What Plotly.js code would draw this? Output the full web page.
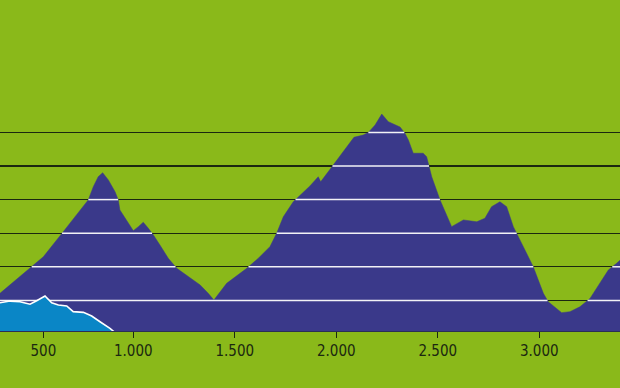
<!DOCTYPE html>
<html>
<head>
<meta charset="utf-8">
<script src="https://cdn.plot.ly/plotly-3.0.1.min.js"></script>
<style>html,body{margin:0;padding:0;background:#8ab91a;}#chart{width:620px;height:388px;}</style>
</head>
<body>
<div id="chart"></div>
<script>
// Main elevation profile (distance, elevation)
const profileX = [343, 491, 557, 655, 721, 778, 803, 827, 849, 877, 910, 926, 934, 967, 1000, 1025, 1049, 1074,
  1099, 1131, 1172, 1214, 1279, 1329, 1369, 1397, 1460, 1559, 1616, 1673, 1706, 1739, 1788,
  1870, 1911, 1923, 1985, 2067, 2087, 2132, 2158, 2191, 2224, 2256, 2314, 2338,
  2355, 2379, 2428, 2445, 2470, 2511, 2568, 2626, 2692, 2732, 2765, 2806, 2839, 2872, 2905, 2938, 2970, 2995,
  3020, 3044, 3086, 3110, 3151, 3200, 3250, 3299, 3340, 3381, 3398];
const profileY = [242, 391, 460, 609, 708, 798, 877, 936, 960, 917, 847, 798, 738, 679, 615, 639, 665, 629,
  589, 530, 451, 391, 332, 292, 242, 202, 302, 391, 451, 520, 599, 698, 787,
  881, 936, 906, 1006, 1135, 1171, 1184, 1200, 1244, 1309, 1264, 1232, 1195,
  1155, 1076, 1076, 1055, 936, 798, 639, 679, 668, 689, 758, 787, 758, 639, 560, 480, 401, 321,
  242, 192, 153, 127, 133, 162, 212, 302, 381, 421, 440];

// Secondary (light blue) profile
const innerX = [343, 393, 442, 491, 524, 565, 598, 631, 672, 704, 754, 795, 836, 885, 918];
const innerY = [186, 196, 192, 177, 198, 226, 186, 173, 167, 133, 129, 107, 73, 34, 0];

// Reference elevation lines
const levels = [200, 400, 600, 800, 1000, 1200];

// Tick positions and labels
const tickPos = [557, 1000, 1500, 2000, 2500, 3000];
const tickText = ['500', '1.000', '1.500', '2.000', '2.500', '3.000'];

const GREEN = '#8ab91a', DARK = '#3a398a', LIGHT = '#0a86c6', LINE = '#1b2810';

function segmentsAbove(xs, ys, g) {
  const ox = [], oy = [];
  let inside = false;
  for (let i = 0; i < xs.length; i++) {
    if (ys[i] >= g) {
      if (!inside) {
        if (i > 0) {
          const t = (g - ys[i - 1]) / (ys[i] - ys[i - 1]);
          ox.push(xs[i - 1] + t * (xs[i] - xs[i - 1])); oy.push(g);
        } else { ox.push(xs[0]); oy.push(g); }
      }
      inside = true;
      ox.push(xs[i]); oy.push(g);
    } else if (inside) {
      const t = (g - ys[i - 1]) / (ys[i] - ys[i - 1]);
      ox.push(xs[i - 1] + t * (xs[i] - xs[i - 1])); oy.push(g);
      ox.push(null); oy.push(null);
      inside = false;
    }
  }
  return {x: ox, y: oy};
}

const traces = [];
traces.push({
  x: profileX, y: profileY, type: 'scatter', mode: 'lines',
  fill: 'tozeroy', fillcolor: DARK, line: {color: DARK, width: 0.5}
});
const wx = [], wy = [];
levels.forEach(g => {
  const s = segmentsAbove(profileX, profileY, g);
  wx.push(...s.x, null); wy.push(...s.y, null);
});
traces.push({
  x: wx, y: wy, type: 'scatter', mode: 'lines', connectgaps: false,
  line: {color: '#f2f2f6', width: 1.5}
});
traces.push({
  x: innerX, y: innerY, type: 'scatter', mode: 'lines',
  fill: 'tozeroy', fillcolor: LIGHT, line: {color: '#ffffff', width: 1.6}
});

const layout = {
  width: 620, height: 388,
  margin: {l: 0, r: 0, t: 0, b: 57, pad: 0},
  paper_bgcolor: GREEN, plot_bgcolor: GREEN,
  showlegend: false, hovermode: false,
  xaxis: {
    range: [343.3, 3397.5], showgrid: false, zeroline: false,
    showline: true, linecolor: '#2a2f55', linewidth: 1,
    tickmode: 'array', tickvals: tickPos, ticktext: tickText,
    ticks: 'outside', ticklen: 6, tickwidth: 1.2, tickcolor: LINE,
    tickfont: {family: '"Liberation Sans Narrow", "DejaVu Sans Condensed", sans-serif', size: 15, color: LINE}
  },
  yaxis: {
    range: [17.9, 1988], showticklabels: false, zeroline: false, showline: false,
    tickmode: 'array', tickvals: levels, ticks: '',
    showgrid: true, gridcolor: LINE, gridwidth: 1.2
  }
};

Plotly.newPlot('chart', traces, layout, {displayModeBar: false, staticPlot: true});
</script>
</body>
</html>
